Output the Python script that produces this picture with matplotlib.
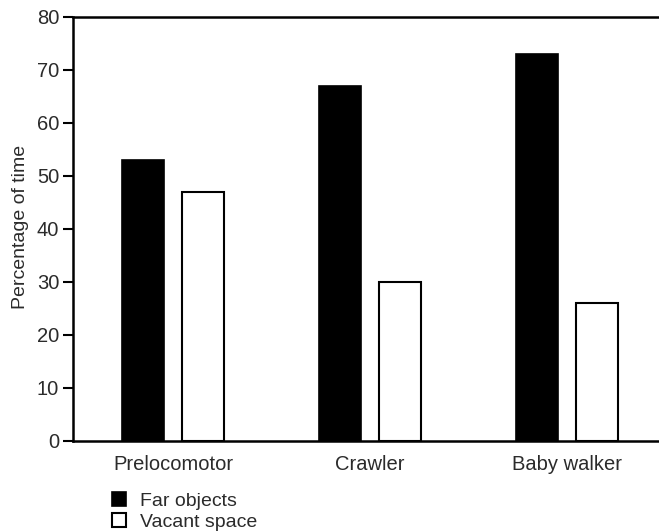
import matplotlib
matplotlib.use("Agg")
import matplotlib.pyplot as plt
import numpy as np

categories = ["Prelocomotor", "Crawler", "Baby walker"]
far_objects = [53, 67, 73]
vacant_space = [47, 30, 26]
series_labels = ["Far objects", "Vacant space"]
yticks = [0, 10, 20, 30, 40, 50, 60, 70, 80]

plt.rcParams['font.family'] = ['Liberation Sans', 'DejaVu Sans']
text_color = '#2b2b2b'

fig = plt.figure(figsize=(6.59, 5.31), dpi=100)
ax = fig.add_axes([73/659, 90/531, 1 - 73/659, (441-16.7)/531])

x = np.arange(len(categories))
w = 0.213
off = 0.151
b1 = ax.bar(x - off, far_objects, w, color='black', edgecolor='black', linewidth=1.2, label=series_labels[0])
b2 = ax.bar(x + off, vacant_space, w, color='white', edgecolor='black', linewidth=1.5, label=series_labels[1])

ax.set_xlim(-0.5076, 2.467)
ax.set_ylim(0, 80)
ax.set_yticks(yticks)
ax.set_xticks(x)
ax.set_xticklabels(categories)
ax.tick_params(axis='x', length=0, pad=10, labelsize=14.5, labelcolor=text_color)
ax.tick_params(axis='y', length=7, width=1.5, pad=3, labelsize=14.5, labelcolor=text_color)

for s in ['left', 'bottom', 'top']:
    ax.spines[s].set_linewidth(1.8)
ax.spines['right'].set_visible(False)

ax.set_ylabel("Percentage of time", fontsize=14, color=text_color)
ax.yaxis.set_label_coords(-44/586, 0.505)

leg = fig.legend(handles=[b1, b2], labels=series_labels, loc='upper left',
                 bbox_to_anchor=(108/659, 1 - 488/531), frameon=False,
                 fontsize=14, handlelength=0.7, handleheight=0.7,
                 handletextpad=0.75, labelspacing=0.2, borderpad=0.2, borderaxespad=0)
for t in leg.get_texts():
    t.set_color(text_color)

fig.savefig("out.png", dpi=100)
